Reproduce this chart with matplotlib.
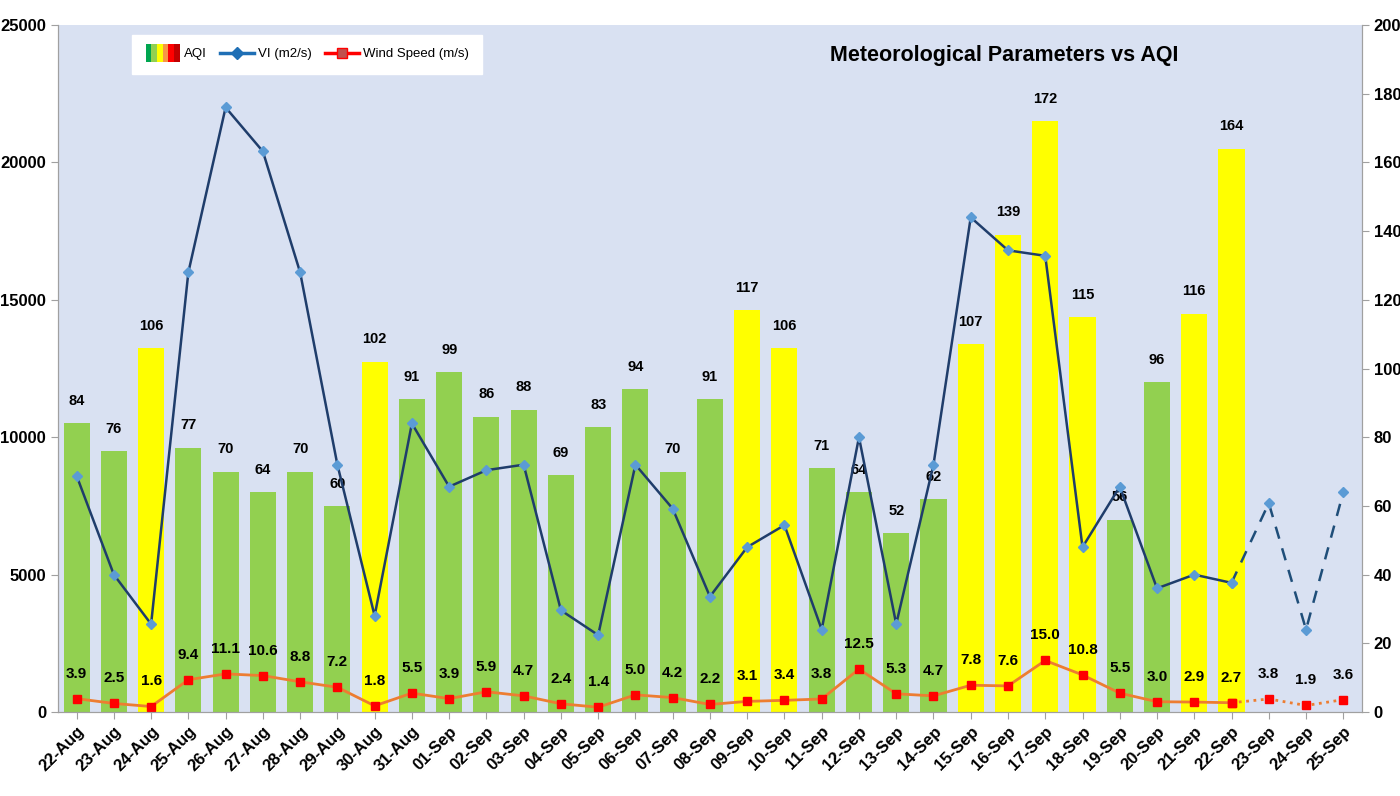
import matplotlib as mpl
import matplotlib.pyplot as plt
import numpy as np
from matplotlib.patches import Rectangle
from matplotlib.legend_handler import HandlerBase

plt.rcParams['font.family'] = ['Liberation Sans Narrow', 'Liberation Sans', 'DejaVu Sans']

dates = ['22-Aug', '23-Aug', '24-Aug', '25-Aug', '26-Aug', '27-Aug', '28-Aug', '29-Aug',
         '30-Aug', '31-Aug', '01-Sep', '02-Sep', '03-Sep', '04-Sep', '05-Sep', '06-Sep',
         '07-Sep', '08-Sep', '09-Sep', '10-Sep', '11-Sep', '12-Sep', '13-Sep', '14-Sep',
         '15-Sep', '16-Sep', '17-Sep', '18-Sep', '19-Sep', '20-Sep', '21-Sep', '22-Sep',
         '23-Sep', '24-Sep', '25-Sep']
aqi = [84, 76, 106, 77, 70, 64, 70, 60, 102, 91, 99, 86, 88, 69, 83, 94, 70, 91,
       117, 106, 71, 64, 52, 62, 107, 139, 172, 115, 56, 96, 116, 164]
vi = [8600, 5000, 3200, 16000, 22000, 20400, 16000, 9000, 3500, 10500, 8200, 8800,
      9000, 3700, 2800, 9000, 7400, 4200, 6000, 6800, 3000, 10000, 3200, 9000,
      18000, 16800, 16600, 6000, 8200, 4500, 5000, 4700, 7600, 3000, 8000]
wind = [3.9, 2.5, 1.6, 9.4, 11.1, 10.6, 8.8, 7.2, 1.8, 5.5, 3.9, 5.9, 4.7, 2.4, 1.4,
        5.0, 4.2, 2.2, 3.1, 3.4, 3.8, 12.5, 5.3, 4.7, 7.8, 7.6, 15.0, 10.8, 5.5, 3.0,
        2.9, 2.7, 3.8, 1.9, 3.6]
n_obs = len(aqi)  # observed days; rest are forecast

x = np.arange(len(dates))
xo = x[:n_obs]
bar_colors = ['#FFFF00' if a > 100 else '#92D050' for a in aqi]


class AQIHandler(HandlerBase):
    def create_artists(self, legend, orig_handle, xd, yd, width, height, fontsize, trans):
        cols = ['#00A650', '#92D050', '#FFFF00', '#F79646', '#FF0000', '#C00000']
        w = width / len(cols)
        return [Rectangle((xd + i * w, yd - 0.5 * height), w, height * 2.0,
                          facecolor=c, edgecolor='none', transform=trans)
                for i, c in enumerate(cols)]


fig = plt.figure(figsize=(14, 7.96), dpi=100)
ax = fig.add_axes([0.0414, 0.1055, 0.9314, 0.8631])
ax.set_facecolor('#D9E1F2')
ax2 = ax.twinx()

# bars and wind on the right axis
ax2.bar(xo, aqi, width=0.7, color=bar_colors, zorder=1)
for xi, a in zip(xo, aqi):
    ax2.annotate(str(a), (xi, a), xytext=(0, 11), textcoords='offset points',
                 ha='center', va='bottom', fontsize=10.5, fontweight='bold')

ax2.plot(x[:n_obs], wind[:n_obs], color='#ED7D31', lw=2, marker='s', ms=6,
         mfc='#FF0000', mec='#FF0000', zorder=4)
ax2.plot(x[n_obs - 1:], wind[n_obs - 1:], color='#ED7D31', lw=2, ls=':', marker='s', ms=6,
         mfc='#FF0000', mec='#FF0000', zorder=4)
for xi, w in zip(x, wind):
    ax2.annotate('%.1f' % w, (xi, w), xytext=(0, 13), textcoords='offset points',
                 ha='center', va='bottom', fontsize=11, fontweight='bold')

ax2.set_ylim(0, 200)
ax2.set_yticks(np.arange(0, 201, 20))

# VI on the left axis, drawn above bars
ax.set_zorder(ax2.get_zorder() + 1)
ax.patch.set_visible(False)
ax2.patch.set_visible(True)
ax2.set_facecolor('#D9E1F2')
ax.plot(x[:n_obs], vi[:n_obs], color='#1F3D6B', lw=1.8, marker='D', ms=5,
        mfc='#5B9BD5', mec='#5B9BD5', zorder=3)
ax.plot(x[n_obs - 1:], vi[n_obs - 1:], color='#1F4E79', lw=1.8, ls=(0, (5, 4)), marker='D', ms=5,
        mfc='#5B9BD5', mec='#5B9BD5', zorder=3)
ax.set_ylim(0, 25000)
ax.set_yticks(np.arange(0, 25001, 5000))
ax.set_xlim(-0.5, len(dates) - 0.5)
ax.set_xticks(x)
ax.set_xticklabels(dates, rotation=45, ha='right', rotation_mode='anchor',
                   fontsize=12, fontweight='bold')

for a in (ax, ax2):
    a.tick_params(labelsize=12, color='#A0A0A0', length=5)
    for lab in a.get_yticklabels():
        lab.set_fontweight('bold')
    for s in a.spines.values():
        s.set_color('#A0A0A0')
    a.spines['top'].set_visible(False)

ax.text(0.726, 0.956, 'Meteorological Parameters vs AQI', transform=ax.transAxes,
        ha='center', va='center', fontsize=15.5, fontweight='bold')

h_aqi = Rectangle((0, 0), 1, 1)
h_vi, = ax.plot([], [], color='#1F6FB5', lw=2.5, marker='D', ms=6, mfc='#1F6FB5')
h_ws, = ax.plot([], [], color='#FF0000', lw=2.5, marker='s', ms=7, mfc='#C0504D')
leg = ax.legend([h_aqi, h_vi, h_ws], ['AQI', 'VI (m2/s)', 'Wind Speed (m/s)'],
                handler_map={h_aqi: AQIHandler()}, loc='upper left',
                bbox_to_anchor=(0.052, 0.995), ncol=3, frameon=True, fancybox=False,
                fontsize=9.5, handlelength=2.6, handletextpad=0.3, columnspacing=1.0,
                borderpad=1.0)
frame = leg.get_frame()
frame.set_facecolor('white')
frame.set_edgecolor('white')
frame.set_alpha(1.0)
leg.set_zorder(10)

fig.savefig('out.png', dpi=100)
